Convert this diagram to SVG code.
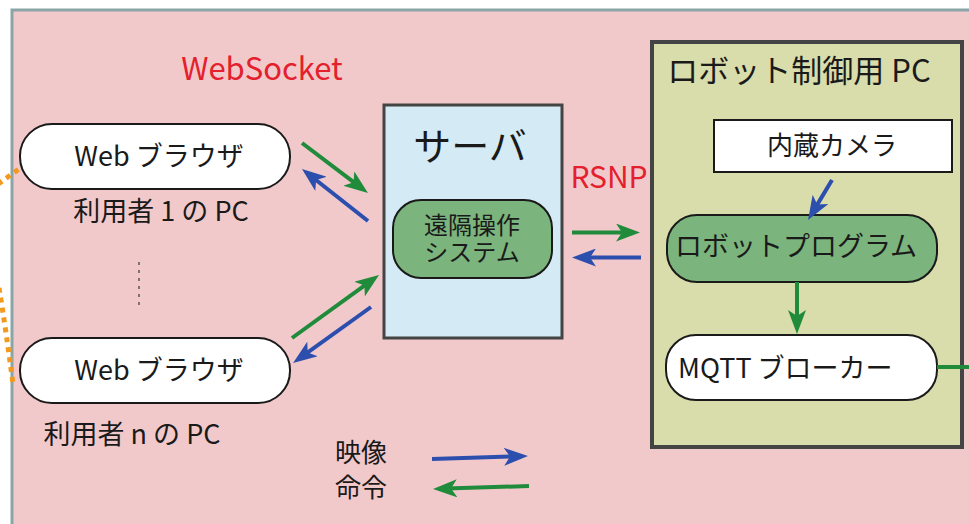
<svg xmlns="http://www.w3.org/2000/svg" width="969" height="524" viewBox="0 0 969 524">
<style>
text{font-family:"Noto Sans CJK JP","Noto Sans",sans-serif;fill:#1a1a1a}
.red{fill:#e3202c}
.pill{fill:#ffffff;stroke:#1a1a1a;stroke-width:2}
.gpill{fill:#7bb47d;stroke:#1a1a1a;stroke-width:2}
.g{stroke:#1f8b3b;stroke-width:4;fill:none;marker-end:url(#ag)}
.b{stroke:#2c4fae;stroke-width:4;fill:none;marker-end:url(#ab)}
.dot{stroke:#f39a1e;stroke-width:5;stroke-dasharray:5 5;fill:none}
</style>
<defs>
<marker id="ag" markerUnits="userSpaceOnUse" markerWidth="24" markerHeight="18" refX="11" refY="9" orient="auto"><path d="M0,0 L24,9 L0,18 L6,9 z" fill="#1f8b3b"/></marker>
<marker id="ab" markerUnits="userSpaceOnUse" markerWidth="24" markerHeight="18" refX="11" refY="9" orient="auto"><path d="M0,0 L24,9 L0,18 L6,9 z" fill="#2c4fae"/></marker>
</defs>
<rect x="0" y="0" width="969" height="524" fill="#ffffff"/>
<rect x="12" y="10" width="970" height="530" fill="#f2c9cb" stroke="#8aa5a8" stroke-width="3"/>
<path class="dot" d="M-2,184 L26,164"/>
<path class="dot" d="M-1,288 Q6,330 13,384"/>
<text class="red" x="262" y="80" font-size="31" text-anchor="middle">WebSocket</text>
<text class="red" x="609" y="188" font-size="30" text-anchor="middle">RSNP</text>
<g id="browser1">
<rect class="pill" x="20" y="124" width="270" height="65" rx="32"/>
<text x="159" y="166" font-size="27" text-anchor="middle">Web ブラウザ</text>
<text x="161" y="221" font-size="27" text-anchor="middle">利用者 1 の PC</text>
</g>
<g id="ellipsis"><line x1="139" y1="262" x2="139" y2="306" stroke="#555" stroke-width="1.5" stroke-dasharray="3 5"/></g>
<g id="browserN">
<rect class="pill" x="20" y="338" width="270" height="65" rx="32"/>
<text x="159" y="380" font-size="27" text-anchor="middle">Web ブラウザ</text>
<text x="132" y="444" font-size="27" text-anchor="middle">利用者 n の PC</text>
</g>
<g id="server">
<rect x="384" y="105" width="178" height="233" fill="#d4eaf4" stroke="#444" stroke-width="3"/>
<text x="470" y="160" font-size="38" text-anchor="middle">サーバ</text>
<rect class="gpill" x="393" y="200" width="159" height="78" rx="28"/>
<text x="472" y="234" font-size="24" text-anchor="middle">遠隔操作</text>
<text x="472" y="261" font-size="24" text-anchor="middle">システム</text>
</g>
<g id="robotpc">
<rect x="652" y="42" width="310" height="405" fill="#d9dcab" stroke="#444" stroke-width="4"/>
<text x="799" y="82" font-size="31" text-anchor="middle">ロボット制御用 PC</text>
</g>
<g id="camera">
<rect x="714" y="120" width="238" height="52" fill="#ffffff" stroke="#1a1a1a" stroke-width="2"/>
<text x="832" y="155" font-size="26" text-anchor="middle">内蔵カメラ</text>
</g>
<g id="robotprogram">
<rect class="gpill" x="667" y="215" width="270" height="67" rx="30"/>
<text x="796" y="256" font-size="27" text-anchor="middle">ロボットプログラム</text>
</g>
<g id="mqtt">
<rect class="pill" x="666" y="335" width="271" height="65" rx="30"/>
<text x="678" y="378" font-size="27">MQTT ブローカー</text>
</g>
<g id="legend">
<text x="335" y="462" font-size="26">映像</text>
<text x="335" y="497" font-size="26">命令</text>
</g>
<g id="connectors">
<line class="g" x1="302" y1="143" x2="357.6" y2="185.2"/>
<line class="b" x1="368" y1="221" x2="312.2" y2="177"/>
<line class="g" x1="292" y1="338" x2="368.5" y2="282.6"/>
<line class="b" x1="371" y1="307" x2="303.6" y2="355.4"/>
<line class="g" x1="572" y1="232.5" x2="627" y2="232.5"/>
<line class="b" x1="641" y1="257.5" x2="585" y2="257.5"/>
<line class="b" x1="832" y1="180" x2="814.7" y2="208.9"/>
<line class="g" x1="797" y1="282" x2="797" y2="321"/>
<line x1="937" y1="367" x2="969" y2="367" stroke="#1f8b3b" stroke-width="4"/>
<line class="b" x1="432" y1="459" x2="515" y2="456.4"/>
<line class="g" x1="529" y1="486" x2="446" y2="488.6"/>
</g>
</svg>
